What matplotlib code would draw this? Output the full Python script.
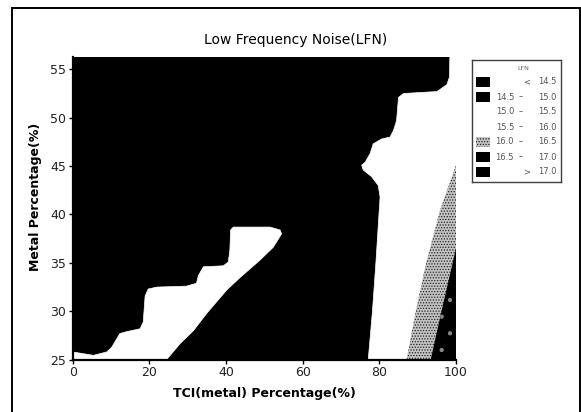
import matplotlib
matplotlib.use('Agg')
import matplotlib.pyplot as plt
from matplotlib.patches import Rectangle

# ---------------- data ----------------
title = "Low Frequency Noise(LFN)"
xlabel = "TCI(metal) Percentage(%)"
ylabel = "Metal Percentage(%)"
x_ticks = [0, 20, 40, 60, 80, 100]
y_ticks = [25, 30, 35, 40, 45, 50, 55]
x_range = [0, 100]
y_range = [25, 56.3]
legend_title = "LFN"
lfn_levels = [14.5, 15.0, 15.5, 16.0, 16.5, 17.0]

# contour boundaries (TCI %, Metal %)
# left white band (15.0 - 16.0): upper staircase edge then lower diagonal edge
band_upper_x = [0, 5.4, 8.9, 10.2, 12.3, 14.1, 17.6, 18.4, 18.9, 19.7, 21.9, 29.7,
                32.3, 32.8, 34.1, 39.3, 40.6, 41.0, 41.2, 41.9, 51.5, 54.1, 54.5]
band_upper_y = [25.8, 25.45, 25.8, 26.3, 27.7, 27.9, 28.2, 28.9, 31.6, 32.3, 32.5, 32.6,
                32.9, 33.7, 34.6, 34.7, 35.1, 36.3, 38.4, 38.7, 38.7, 38.4, 38.0]
band_lower_x = [52.3, 48.9, 43.7, 40.2, 35.0, 31.5, 28.0, 24.5, 0]
band_lower_y = [36.6, 35.3, 33.5, 32.2, 29.8, 28.0, 26.65, 25.0, 25.0]

# right white region (15.0 - 16.0): left edge, bottom to top
right_edge_x = [77.1, 78.2, 79.1, 79.9, 80.2, 79.7, 78.0, 75.8, 75.4, 76.3, 77.6, 78.4,
                80.6, 82.8, 83.7, 84.5, 85.0, 86.3, 95.0, 97.6, 98.3, 98.4, 100, 100]
right_edge_y = [25.0, 30.0, 35.0, 40.0, 41.8, 43.0, 43.9, 44.6, 45.1, 45.4, 46.3, 47.3,
                47.8, 48.0, 48.7, 49.7, 52.1, 52.5, 52.7, 53.4, 54.2, 56.3, 56.3, 25.0]

# 16.0 - 16.5 band
gray_edge_x = [87.1, 89.5, 92.2, 95.8, 100, 100]
gray_edge_y = [25.0, 30.0, 35.0, 40.4, 45.1, 25.0]

# 16.5 - 17.0 band
dark_edge_x = [93.4, 96.5, 100, 100]
dark_edge_y = [25.0, 30.5, 36.5, 25.0]

# ---------------- styles ----------------
W, H = 581, 412
fig = plt.figure(figsize=(W / 100, H / 100), dpi=100)
plt.rcParams['font.family'] = ['DejaVu Sans']
plt.rcParams['hatch.linewidth'] = 0.6

level_styles = [
    dict(facecolor='black', edgecolor='black', hatch=None),
    dict(facecolor='black', edgecolor='black', hatch=None),
    dict(facecolor='white', edgecolor='white', hatch=None),
    dict(facecolor='white', edgecolor='white', hatch=None),
    dict(facecolor='#c4c4c4', edgecolor='#202020', hatch='......'),
    dict(facecolor='black', edgecolor='#8a8a8a', hatch='.'),
    dict(facecolor='black', edgecolor='black', hatch=None),
]

ax_l, ax_r, ax_t, ax_b = 72.7, 456.0, 56.7, 359.7
ax = fig.add_axes([ax_l / W, 1 - ax_b / H, (ax_r - ax_l) / W, (ax_b - ax_t) / H])
ax.set_facecolor(level_styles[1]['facecolor'])

def region(xs, ys, lvl):
    st = level_styles[lvl]
    ax.fill(xs, ys, facecolor=st['facecolor'], edgecolor=st['edgecolor'] if st['hatch'] else st['facecolor'],
            hatch=st['hatch'], linewidth=0 if st['hatch'] else 0.5, zorder=2)

region(band_upper_x + band_lower_x, band_upper_y + band_lower_y, 2)
region(right_edge_x, right_edge_y, 2)
region(gray_edge_x, gray_edge_y, 4)
region(dark_edge_x, dark_edge_y, 5)

ax.set_xlim(*x_range)
ax.set_ylim(*y_range)
ax.set_xticks(x_ticks)
ax.set_yticks(y_ticks)
for s in ['top', 'right']:
    ax.spines[s].set_visible(False)
for s in ['left', 'bottom']:
    ax.spines[s].set_linewidth(1.6)
    ax.spines[s].set_zorder(5)
ax.tick_params(direction='out', length=3, width=1, labelsize=9, pad=1.5, labelcolor='#222222')

ax.set_xlabel(xlabel, fontsize=9, fontweight='bold', va='center')
ax.xaxis.set_label_coords(0.5, -(393 - ax_b) / (ax_b - ax_t))
ax.set_ylabel(ylabel, fontsize=9, fontweight='bold', va='center')
ax.yaxis.set_label_coords(-(ax_l - 36) / (ax_r - ax_l), (ax_b - 197) / (ax_b - ax_t))

fig.text(296 / W, 1 - 40 / H, title, ha='center', va='center', fontsize=10)

# outer frame
fig.add_artist(Rectangle((11.5 / W, -0.1), (579.8 - 11.5) / W, 1.1 - 8 / H,
                         transform=fig.transFigure, fill=False, edgecolor='black', linewidth=1.4))

# ---------------- legend ----------------
lg_l, lg_r, lg_t, lg_b = 472, 561, 60, 182
lax = fig.add_axes([lg_l / W, 1 - lg_b / H, (lg_r - lg_l) / W, (lg_b - lg_t) / H])
lax.set_xlim(lg_l, lg_r)
lax.set_ylim(lg_b, lg_t)
lax.set_xticks([])
lax.set_yticks([])
for s in lax.spines.values():
    s.set_linewidth(1.0)
    s.set_edgecolor('#404040')
lax.text(523, 69, legend_title, ha='center', va='center', fontsize=4.5, color='#666666')

labels = []
labels.append(('<', None, lfn_levels[0]))
for a, b in zip(lfn_levels[:-1], lfn_levels[1:]):
    labels.append((a, '–', b))
labels.append(('>', None, lfn_levels[-1]))

tk = dict(fontsize=6, color='#555555', va='center')
for i, (st, lab) in enumerate(zip(level_styles, labels)):
    yc = 82 + 15 * i
    if st['facecolor'] != 'white':
        lax.add_patch(Rectangle((476, yc - 5), 14, 10, facecolor=st['facecolor'],
                                edgecolor=st['edgecolor'] if st['hatch'] else st['facecolor'],
                                hatch=st['hatch'], linewidth=0))
    a, mid, b = lab
    if mid is None:
        lax.text(527, yc, a, ha='center', **tk)
        lax.text(538, yc, f"{b:.1f}", ha='left', **tk)
    else:
        lax.text(514, yc, f"{a:.1f}", ha='right', **tk)
        lax.text(521, yc, mid, ha='center', **tk)
        lax.text(538, yc, f"{b:.1f}", ha='left', **tk)

fig.savefig('out.png', dpi=100)
